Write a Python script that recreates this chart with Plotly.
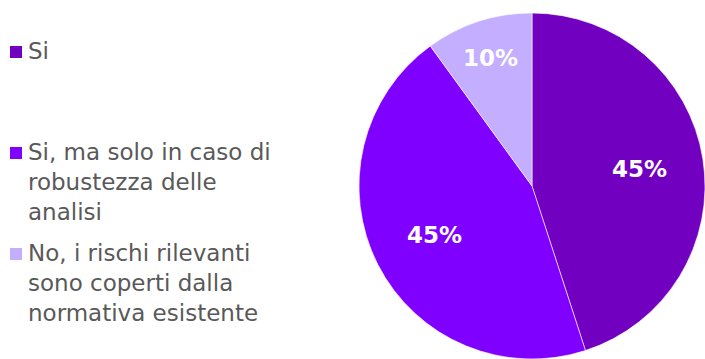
import math
import plotly.graph_objects as go

# Survey answers and their shares
labels = [
    "Si",
    "Si, ma solo in caso di<br>robustezza delle<br>analisi",
    "No, i rischi rilevanti<br>sono coperti dalla<br>normativa esistente",
]
values = [45, 45, 10]
colors = ["#7200C0", "#8000FF", "#C3AEFF"]

# Vertical position (px from top) of the first line of each legend entry
legend_y_px = [52, 153, 254]

W, H = 705, 359
CX, CY, R = 532, 186, 173  # pie centre and radius in px
LEGEND_FONT = "DejaVu Sans, sans-serif"
LABEL_FONT = "DejaVu Sans, sans-serif"

fig = go.Figure(
    go.Pie(
        labels=labels,
        values=values,
        sort=False,
        direction="clockwise",
        rotation=0,
        marker=dict(colors=colors, line=dict(color="white", width=0.6)),
        textinfo="none",
        domain=dict(x=[(CX - R) / W, 1], y=[0, 1 - (CY - R) / H]),
        showlegend=False,
        hoverinfo="label+percent",
    )
)

# Percentage labels placed along each slice's bisector
total = sum(values)
start = 0.0
for v in values:
    frac = v / total
    mid = (start + frac / 2) * 2 * math.pi  # clockwise from 12 o'clock
    rf = 0.63 if frac > 0.2 else 0.78
    x = CX + rf * R * math.sin(mid)
    y = CY - rf * R * math.cos(mid)
    fig.add_annotation(
        x=x / W, y=1 - y / H, xref="paper", yref="paper",
        xanchor="center", yanchor="middle",
        text=f"<b>{frac:.0%}</b>", showarrow=False,
        font=dict(family=LABEL_FONT, size=23, color="white"),
    )
    start += frac

# Legend drawn as coloured squares with wrapped labels
for lab, col, ypx in zip(labels, colors, legend_y_px):
    fig.add_shape(
        type="rect", xref="paper", yref="paper",
        x0=10 / W, x1=22 / W,
        y0=1 - (ypx + 6) / H, y1=1 - (ypx - 6) / H,
        fillcolor=col, line=dict(width=0),
    )
    fig.add_annotation(
        x=26 / W, y=1 - (ypx - 16) / H,
        xref="paper", yref="paper",
        xanchor="left", yanchor="top", align="left",
        text=lab, showarrow=False,
        font=dict(family=LEGEND_FONT, size=23, color="#595959"),
    )

fig.update_layout(
    width=W, height=H,
    margin=dict(l=0, r=0, t=0, b=0),
    paper_bgcolor="white",
    plot_bgcolor="white",
)

fig.write_html("out.html")
